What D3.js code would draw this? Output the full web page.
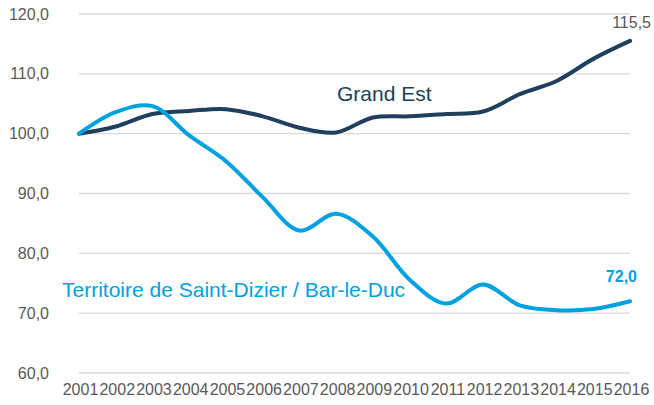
<!DOCTYPE html>
<html lang="fr">
<head>
<meta charset="UTF-8">
<title>Grand Est / Saint-Dizier</title>
<script src="https://d3js.org/d3.v7.min.js"></script>
<style>
  body { margin: 0; background: #fff; }
  text { font-family: "Liberation Sans", Arial, sans-serif; }
</style>
</head>
<body>
<div id="chart"></div>
<script>
// Data
var years = ["2001","2002","2003","2004","2005","2006","2007","2008",
             "2009","2010","2011","2012","2013","2014","2015","2016"];
var grandEst = [100, 101.2, 103.3, 103.8, 104.1, 102.9, 101.0, 100.2,
                102.7, 102.9, 103.3, 103.7, 106.6, 108.8, 112.5, 115.5];
var territoire = [100, 103.6, 104.6, 99.7, 95.4, 89.4, 83.8, 86.6,
                  82.8, 75.6, 71.6, 74.8, 71.3, 70.5, 70.7, 72.0];
var yTicks = [60, 70, 80, 90, 100, 110, 120];

var width = 654, height = 405;
var darkBlue = "#203f5c", lightBlue = "#00a1e1", grey = "#595959";

var svg = d3.select("#chart").append("svg")
    .attr("width", width)
    .attr("height", height);

var x = d3.scalePoint()
    .domain(years)
    .range([79, 630]);

var y = d3.scaleLinear()
    .domain([60, 120])
    .range([373, 14]);

var fmt = function(v) { return d3.format(".1f")(v).replace(".", ","); };

// Gridlines
svg.append("g")
    .selectAll("line")
    .data(yTicks)
    .join("line")
    .attr("x1", 79)
    .attr("x2", 630)
    .attr("y1", function(d) { return y(d); })
    .attr("y2", function(d) { return y(d); })
    .attr("stroke", "#d9d9d9")
    .attr("stroke-width", 1.3);

// Y axis labels
var yAxis = svg.append("g")
    .attr("transform", "translate(54,0)")
    .call(d3.axisLeft(y).tickValues(yTicks).tickFormat(fmt).tickSize(0).tickPadding(5));
yAxis.select(".domain").remove();
yAxis.selectAll("text")
    .attr("fill", grey)
    .style("font-size", "16px")
    .style("font-family", "'Liberation Sans', Arial, sans-serif");

// X axis labels
var xAxis = svg.append("g")
    .attr("transform", "translate(1,380)")
    .call(d3.axisBottom(x).tickSize(0).tickPadding(4));
xAxis.select(".domain").remove();
xAxis.selectAll("text")
    .attr("fill", grey)
    .style("font-size", "16px")
    .style("font-family", "'Liberation Sans', Arial, sans-serif");

// Lines
var line = d3.line()
    .x(function(d, i) { return x(years[i]); })
    .y(function(d) { return y(d); })
    .curve(d3.curveCatmullRom.alpha(0.5));

svg.append("path")
    .datum(grandEst)
    .attr("d", line)
    .attr("fill", "none")
    .attr("stroke", darkBlue)
    .attr("stroke-width", 4)
    .attr("stroke-linecap", "round");

svg.append("path")
    .datum(territoire)
    .attr("d", line)
    .attr("fill", "none")
    .attr("stroke", lightBlue)
    .attr("stroke-width", 4)
    .attr("stroke-linecap", "round");

// Series labels
svg.append("text")
    .attr("x", 337)
    .attr("y", 101)
    .attr("fill", darkBlue)
    .style("font-size", "21px")
    .text("Grand Est");

svg.append("text")
    .attr("x", 62)
    .attr("y", 297)
    .attr("fill", lightBlue)
    .style("font-size", "21px")
    .text("Territoire de Saint-Dizier / Bar-le-Duc");

// End values
svg.append("text")
    .attr("x", 651)
    .attr("y", 28)
    .attr("text-anchor", "end")
    .attr("fill", grey)
    .style("font-size", "16px")
    .text(fmt(grandEst[grandEst.length - 1]));

svg.append("text")
    .attr("x", 637)
    .attr("y", 282)
    .attr("text-anchor", "end")
    .attr("fill", lightBlue)
    .style("font-size", "16px")
    .style("font-weight", "bold")
    .text(fmt(territoire[territoire.length - 1]));
</script>
</body>
</html>
